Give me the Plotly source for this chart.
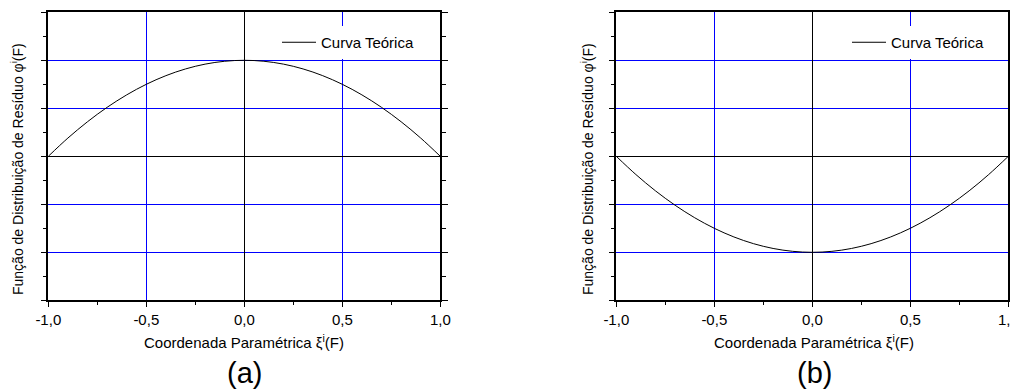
import plotly.graph_objects as go

# ---- data ----
xi = [-1.0, -0.9, -0.8, -0.7, -0.6, -0.5, -0.4, -0.3, -0.2, -0.1, 0.0,
      0.1, 0.2, 0.3, 0.4, 0.5, 0.6, 0.7, 0.8, 0.9, 1.0]
phi_a = [0.0, 0.19, 0.36, 0.51, 0.64, 0.75, 0.84, 0.91, 0.96, 0.99, 1.0,
         0.99, 0.96, 0.91, 0.84, 0.75, 0.64, 0.51, 0.36, 0.19, 0.0]
phi_b = [0.0, -0.19, -0.36, -0.51, -0.64, -0.75, -0.84, -0.91, -0.96, -0.99, -1.0,
         -0.99, -0.96, -0.91, -0.84, -0.75, -0.64, -0.51, -0.36, -0.19, 0.0]
x_tick_vals = [-1.0, -0.5, 0.0, 0.5, 1.0]
x_tick_text = ["-1,0", "-0,5", "0,0", "0,5", "1,0"]
series_name = "Curva Teórica"
x_title = "Coordenada Paramétrica ξ<sup>i</sup>(F)"
y_title = "Função de Distribuição de Resíduo φ<sup>i</sup>(F)"
panel_labels = ["(a)", "(b)"]

FONT = "Liberation Sans, Arial, sans-serif"
GRID = "#0000ff"
OFF = 8                      # page body margin
W, H = 1018 - OFF, 390 - OFF  # figure size fits the window


def px(x):
    return (x - OFF) / W


def py(y):
    return (H - (y - OFF)) / H


fig = go.Figure()
fig.add_trace(go.Scatter(x=xi, y=phi_a, mode="lines", name=series_name,
                         line=dict(color="black", width=1, shape="spline"),
                         xaxis="x", yaxis="y", legend="legend"))
fig.add_trace(go.Scatter(x=xi, y=phi_b, mode="lines", name=series_name,
                         line=dict(color="black", width=1, shape="spline"),
                         xaxis="x2", yaxis="y2", legend="legend2"))

# panel extents in page pixels (left, right); top / bottom
panels = [(48.3, 440.3), (616.3, 1008.3)]
TOP, BOTTOM = 12.3, 300.3
ydom = [py(BOTTOM), py(TOP)]


def xax(dom, anchor):
    return dict(domain=dom, anchor=anchor, range=[-1, 1], automargin=False,
                tickvals=x_tick_vals, ticktext=x_tick_text,
                ticklabeloverflow="allow",
                ticks="outside", ticklen=5, tickwidth=1, tickcolor="black",
                showline=True, linecolor="black", linewidth=1.5, mirror=True,
                showgrid=True, gridcolor=GRID, gridwidth=1,
                zeroline=True, zerolinecolor="black", zerolinewidth=1.2,
                minor=dict(ticks="outside", ticklen=3, dtick=0.25, tick0=0,
                           tickcolor="black", showgrid=False),
                tickfont=dict(size=15, color="black", family=FONT),
                fixedrange=True)


def yax(anchor):
    return dict(domain=ydom, anchor=anchor, range=[-1.5, 1.5], dtick=0.5, tick0=0,
                automargin=False, showticklabels=False,
                ticks="outside", ticklen=6, tickwidth=1, tickcolor="black",
                showline=True, linecolor="black", linewidth=1.5, mirror="ticks",
                showgrid=True, gridcolor=GRID, gridwidth=1,
                zeroline=True, zerolinecolor="black", zerolinewidth=1.2,
                minor=dict(ticks="outside", ticklen=4, dtick=0.25, tick0=0,
                           tickcolor="black", showgrid=False),
                fixedrange=True)


annotations = []
for i, (l_px, r_px) in enumerate([(50, 438), (620, 1008)]):
    cx = px((l_px + r_px) / 2)
    annotations.append(dict(text=x_title, xref="paper", yref="paper",
                            x=cx, y=py(341), xanchor="center", yanchor="middle",
                            showarrow=False,
                            font=dict(size=15, color="black", family=FONT)))
    annotations.append(dict(text=panel_labels[i], xref="paper", yref="paper",
                            x=cx, y=py(373), xanchor="center", yanchor="middle",
                            showarrow=False,
                            font=dict(size=29, color="black", family=FONT)))
    annotations.append(dict(text=y_title, xref="paper", yref="paper",
                            x=px(l_px - 33), y=py(169), xanchor="center",
                            yanchor="middle", textangle=-90, showarrow=False,
                            font=dict(size=14, color="black", family=FONT)))


def leg(x):
    return dict(x=px(x), y=py(26), xanchor="left", yanchor="top",
                bgcolor="white", borderwidth=0,
                font=dict(size=15, color="black", family=FONT),
                itemwidth=34)


fig.update_layout(
    width=W, height=H,
    margin=dict(l=0, r=0, t=0, b=0, autoexpand=False),
    paper_bgcolor="white", plot_bgcolor="white",
    showlegend=True,
    xaxis=xax([px(panels[0][0]), px(panels[0][1])], "y"), yaxis=yax("x"),
    xaxis2=xax([px(panels[1][0]), px(panels[1][1])], "y2"), yaxis2=yax("x2"),
    legend=leg(277), legend2=leg(847),
    annotations=annotations,
    font=dict(family=FONT, color="black"),
)

fig.write_html("out.html")
